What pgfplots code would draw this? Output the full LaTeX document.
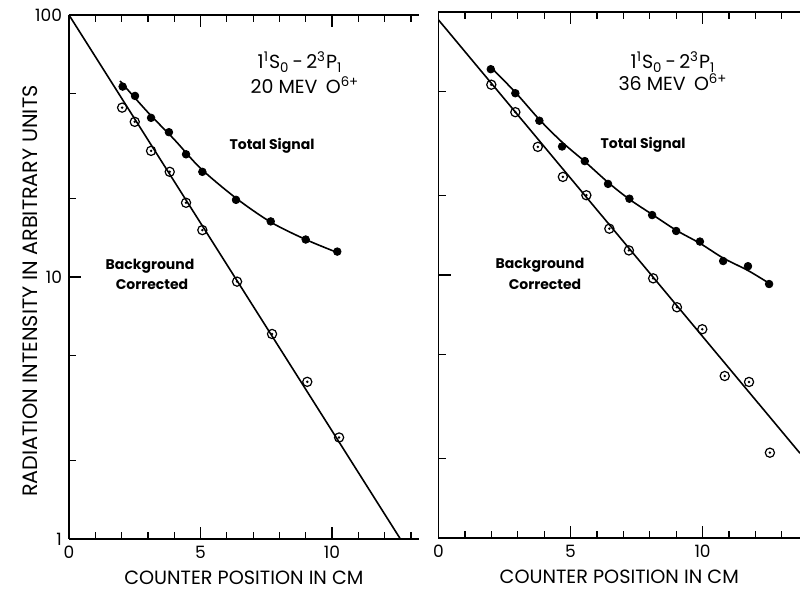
\documentclass[border=0pt]{standalone}
\usepackage{fontspec}
\setmainfont{Poppins}
\usepackage{pgfplots}
\pgfplotsset{compat=1.18}

% circled dot for background-corrected points
\pgfdeclareplotmark{odot}{%
  \pgfpathcircle{\pgfpointorigin}{\pgfplotmarksize}\pgfusepathqstroke
  \pgfpathcircle{\pgfpointorigin}{0.3\pgfplotmarksize}\pgfusepathqfill}

\pgfplotsset{panel/.style={
  scale only axis, ymin=1, ymax=100, xmin=0,
  axis y line*=left,
  xtick={0,5,10}, minor xtick={1,2,3,4,6,7,8,9,11,12,13},
  ytick={1,10,100}, minor ytick={2,5,20,50},
  log ticks with fixed point,
  tick align=inside, major tick length=6pt, minor tick length=3.5pt,
  every tick/.style={black, line width=0.6pt},
  axis line style={line width=0.6pt},
  tick label style={font=\fontsize{8.5}{9}\selectfont},
  /pgf/number format/assume math mode=true,
  xlabel={COUNTER POSITION IN CM},
  xlabel style={at={(axis description cs:0.5,0)}, anchor=center, yshift=-19.5pt,
                font=\fontsize{9.6}{10}\selectfont},
}}

\begin{document}
\begin{tikzpicture}
\useasboundingbox (0,0) rectangle (400pt,296pt);

% 20 MeV
\begin{semilogyaxis}[panel, at={(34.5pt,26.5pt)}, anchor=south west,
  width=174.9pt, height=262pt, xmax=13.3,
  ylabel={RADIATION INTENSITY IN ARBITRARY UNITS},
  ylabel style={at={(axis description cs:0,0.473)}, anchor=center, rotate=0,
                yshift=19.5pt, font=\fontsize{10.4}{11}\selectfont}]
\addplot[black, line width=0.8pt] coordinates {(0,100) (12.6,1)};
\addplot[black, line width=0.8pt, smooth] coordinates
  {(1.94,56) (3.0,42.5) (4.0,33.5) (5.0,26) (6.35,20) (7.67,16.2) (9.0,13.9) (10.2,12.4)};
\addplot[only marks, mark=*, mark size=1.9pt, black] coordinates
  {(2.04,53.3) (2.51,49.1) (3.12,40.5) (3.80,35.7) (4.45,29.4) (5.07,25.2)
   (6.35,19.7) (7.67,16.3) (9.0,13.9) (10.2,12.5)};
\addplot[only marks, mark=odot, mark size=2.3pt, black,
  mark options={line width=0.6pt}] coordinates
  {(2.02,44.3) (2.50,39.1) (3.12,30.3) (3.83,25.2) (4.45,19.2) (5.07,15.1)
   (6.39,9.6) (7.72,6.06) (9.06,3.98) (10.27,2.44)};
\end{semilogyaxis}

% 36 MeV
\begin{semilogyaxis}[panel, at={(219.25pt,27pt)}, anchor=south west,
  width=180.75pt, height=263pt, xmax=13.69, yticklabels={}]
\addplot[black, line width=0.8pt] coordinates {(0,93.3) (13.69,2.1)};
\addplot[black, line width=0.8pt, smooth] coordinates
  {(1.96,62) (2.91,49.5) (3.82,39) (4.68,32) (5.54,27) (6.42,22.5) (7.23,19.4)
   (8.09,17) (9.0,14.8) (9.9,13.2) (10.78,11.6) (11.72,10.4) (12.52,9.3)};
\addplot[only marks, mark=*, mark size=1.9pt, black] coordinates
  {(1.98,60.6) (2.91,49.1) (3.82,38.6) (4.68,30.8) (5.54,27.1) (6.42,22.2)
   (7.23,19.5) (8.09,16.9) (9.0,14.7) (9.9,13.4) (10.78,11.3) (11.72,10.8) (12.52,9.24)};
\addplot[only marks, mark=odot, mark size=2.3pt, black,
  mark options={line width=0.6pt}] coordinates
  {(2.0,52.9) (2.91,41.6) (3.76,30.7) (4.71,23.6) (5.60,20.1) (6.47,15.0)
   (7.21,12.4) (8.13,9.71) (9.03,7.54) (9.99,6.22) (10.84,4.13) (11.76,3.92) (12.55,2.11)};
\end{semilogyaxis}

% annotations
\begin{scope}[font=\fontsize{9.5}{11}\selectfont]
\node at (150pt,265pt) {1\textsuperscript{1}S\textsubscript{0}\,-\,2\textsuperscript{3}P\textsubscript{1}};
\node at (152.5pt,253.5pt) {20 MEV\, O\textsuperscript{6+}};
\node at (336.5pt,265pt) {1\textsuperscript{1}S\textsubscript{0}\,-\,2\textsuperscript{3}P\textsubscript{1}};
\node at (336.5pt,255pt) {36 MEV\, O\textsuperscript{6+}};
\end{scope}
\begin{scope}[font=\fontsize{7}{8}\selectfont\bfseries]
\node at (136pt,223pt) {Total Signal};
\node at (75pt,163pt) {Background};
\node at (76pt,154pt) {Corrected};
\node at (321.5pt,223.5pt) {Total Signal};
\node at (270pt,163.5pt) {Background};
\node at (272.5pt,154pt) {Corrected};
\end{scope}
\end{tikzpicture}
\end{document}
